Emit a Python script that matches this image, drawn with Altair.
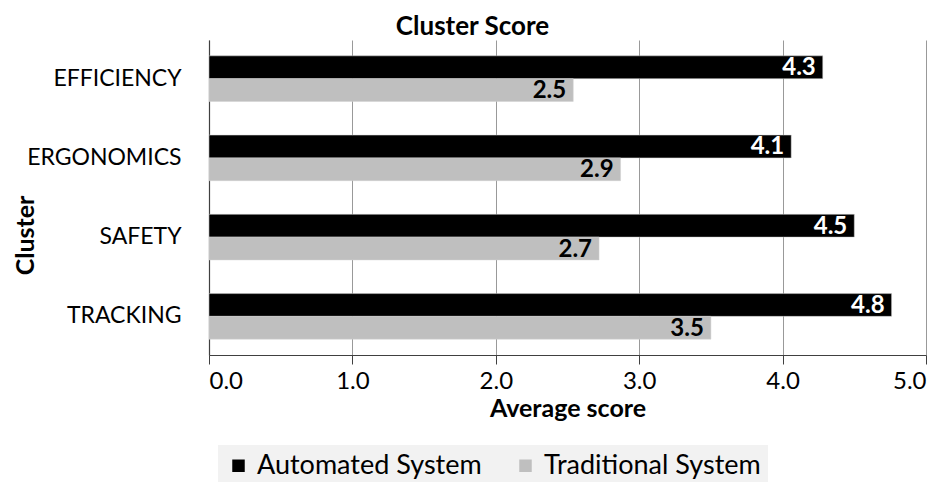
import altair as alt
import pandas as pd

categories = ["EFFICIENCY", "ERGONOMICS", "SAFETY", "TRACKING"]
series_names = ["Automated System", "Traditional System"]
automated = [4.28, 4.06, 4.50, 4.76]
traditional = [2.54, 2.87, 2.72, 3.50]
x_ticks = [0, 1, 2, 3, 4, 5]

rows = []
for c, a, t in zip(categories, automated, traditional):
    rows.append({"cluster": c, "series": series_names[0], "value": a})
    rows.append({"cluster": c, "series": series_names[1], "value": t})
df = pd.DataFrame(rows)

FONT = "Lato"

y_enc = alt.Y(
    "cluster:N",
    sort=categories,
    scale=alt.Scale(paddingInner=0.425, paddingOuter=0.2),
    axis=alt.Axis(
        title="Cluster",
        titleFont=FONT,
        titleFontSize=25,
        titleFontWeight="bold",
        titleColor="black",
        titleAngle=-90,
        titleX=-184,
        titleY=195,
        titleAlign="center",
        titleBaseline="middle",
        labelFont=FONT,
        labelFontSize=23,
        labelColor="black",
        labelPadding=28,
        ticks=False,
        domainColor="#404040",
        domainWidth=1.2,
        grid=False,
    ),
)
x_enc = alt.X(
    "value:Q",
    scale=alt.Scale(domain=[0, 5], nice=False),
    axis=alt.Axis(
        values=x_ticks,
        format=".1f",
        title="Average score",
        titleFont=FONT,
        titleFontSize=25,
        titleFontWeight="bold",
        titleColor="black",
        titlePadding=3,
        labelFont=FONT,
        labelFontSize=24,
        labelColor="black",
        labelPadding=5,
        tickSize=9,
        tickColor="#404040",
        domainColor="#404040",
        domainWidth=1.2,
        grid=True,
        gridColor="#999999",
        gridWidth=1,
    ),
)
yoff = alt.YOffset("series:N", sort=series_names)

bars = alt.Chart(df).mark_bar(stroke="#d0d0d0", strokeWidth=0.5).encode(
    y=y_enc,
    x=x_enc,
    yOffset=yoff,
    color=alt.Color(
        "series:N",
        sort=series_names,
        scale=alt.Scale(domain=series_names, range=["#000000", "#bfbfbf"]),
        legend=alt.Legend(
            title=None,
            orient="none",
            legendX=9,
            legendY=405,
            direction="horizontal",
            fillColor="#f2f2f2",
            padding=7,
            symbolType="square",
            symbolSize=156,
            symbolStrokeWidth=0,
            symbolOpacity=1,
            labelOffset=5,
            labelFont=FONT,
            labelFontSize=27,
            labelColor="black",
            columnPadding=30,
            labelLimit=400,
        ),
    ),
)

labels = alt.Chart(df).mark_text(
    align="right", baseline="middle", dx=-7, dy=1, font=FONT, fontSize=24, fontWeight="bold"
).encode(
    y=alt.Y("cluster:N", sort=categories),
    x=alt.X("value:Q"),
    yOffset=yoff,
    text=alt.Text("value:Q", format=".1f"),
    fill=alt.Fill(
        "series:N",
        scale=alt.Scale(domain=series_names, range=["#ffffff", "#000000"]),
        legend=None,
    ),
)

chart = (
    alt.layer(bars, labels)
    .properties(
        width=717,
        height=315,
        autosize=alt.AutoSizeParams(type="none"),
        padding={"left": 201, "top": 32, "right": 13, "bottom": 127},
        title=alt.TitleParams(
            "Cluster Score",
            font=FONT,
            fontSize=26,
            fontWeight="bold",
            color="black",
            anchor="middle",
            dx=-95,
            offset=0,
        ),
    )
    .configure_view(stroke=None)
)

chart.save("out.html", embed_options={"renderer": "svg", "actions": False})
